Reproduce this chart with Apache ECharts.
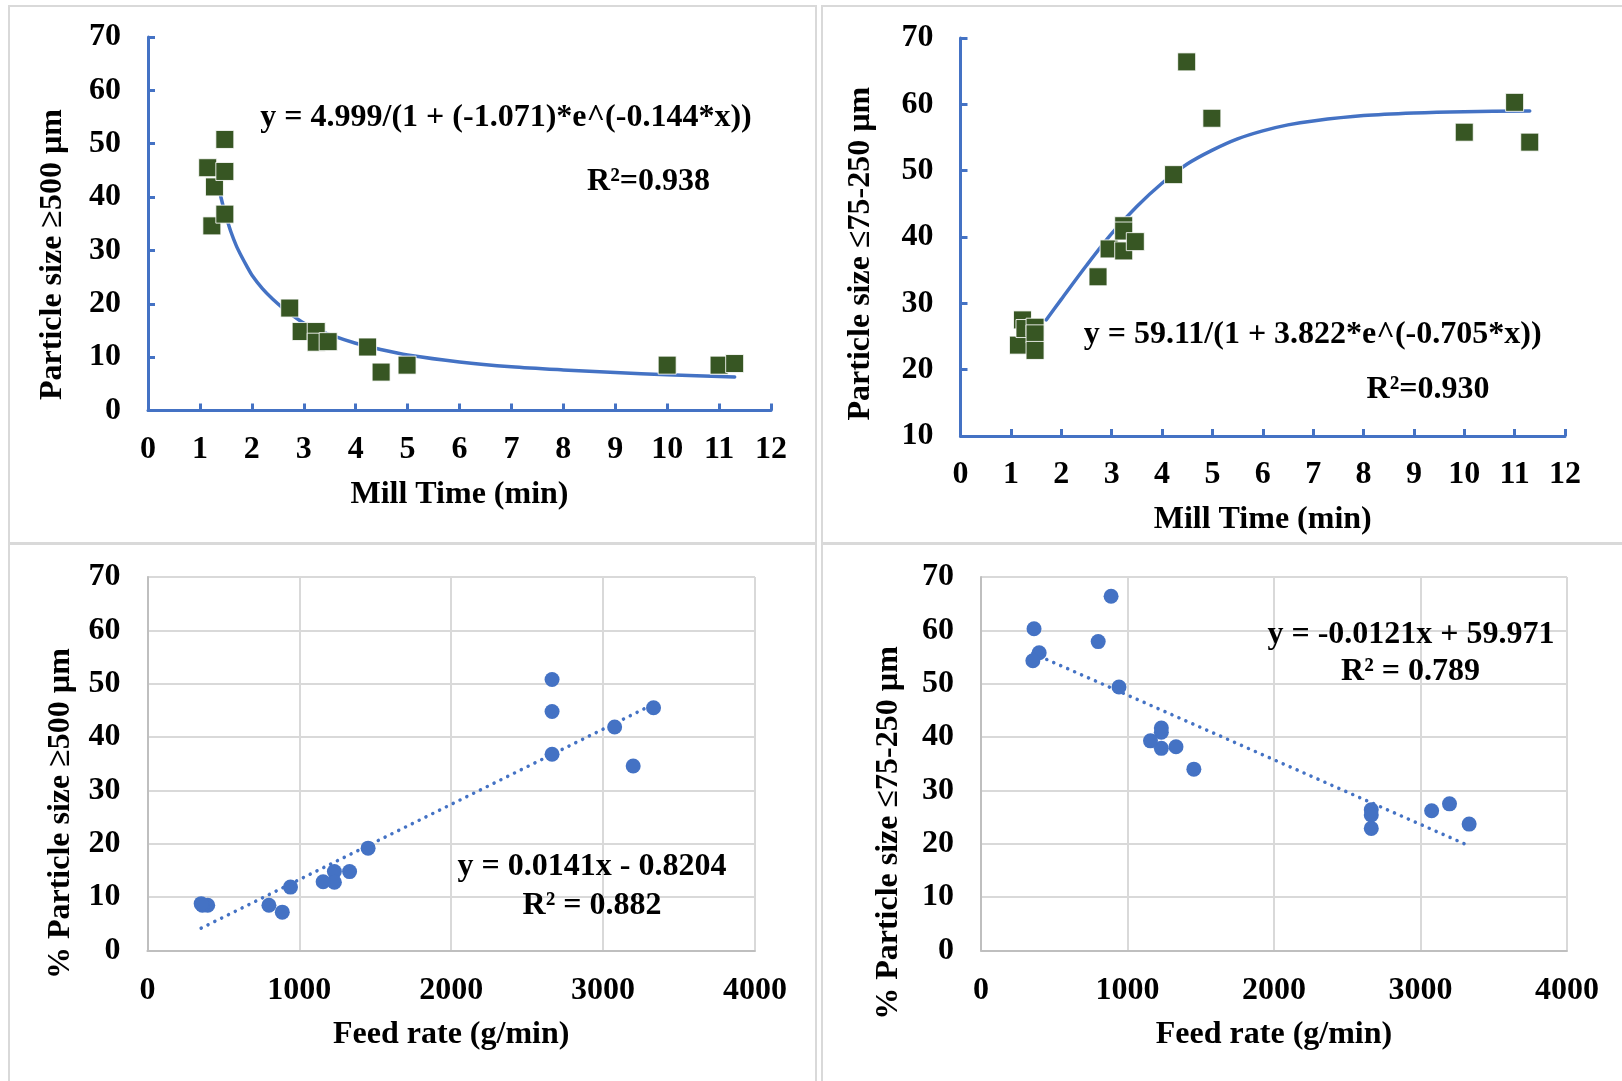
<!DOCTYPE html>
<html><head><meta charset="utf-8">
<script src="https://cdn.jsdelivr.net/npm/echarts@6/dist/echarts.min.js"></script>
<style>html,body{margin:0;padding:0;background:#fff}#c{width:1622px;height:1081px}</style>
</head><body><div id="c"></div>
<script>
// ---- data ----
// Particle size >=500 µm (panels 1 & 3)
const coarseTime = [1.15, 1.23, 1.28, 1.48, 1.48, 1.48, 2.73, 2.95, 3.24, 3.24, 3.47, 4.23, 4.49, 4.99, 10.0, 11.0, 11.3];
const coarseFeed = [3332, 3198, 3076, 2664, 2664, 2664, 1453, 1331, 1231, 1231, 1157, 942, 888, 800, 397, 362, 354];
const coarseValue = [45.5, 34.6, 41.9, 50.8, 44.8, 36.8, 19.2, 14.8, 14.8, 12.8, 12.9, 11.9, 7.2, 8.5, 8.5, 8.5, 8.8];
// Particle size <=75-250 µm (panels 2 & 4)
const fineTime = [1.15, 1.23, 1.28, 1.48, 1.48, 1.48, 2.73, 2.95, 3.24, 3.24, 3.24, 3.47, 4.23, 4.49, 4.99, 10.0, 11.0, 11.3];
const fineFeed = [3332, 3198, 3076, 2664, 2664, 2664, 1453, 1331, 1231, 1231, 1231, 1157, 942, 888, 800, 397, 362, 354];
const fineValue = [23.7, 27.5, 26.2, 26.4, 25.4, 22.9, 34.0, 38.2, 41.7, 40.9, 37.9, 39.3, 49.4, 66.4, 57.9, 55.8, 60.3, 54.3];
// fitted curves
const curve1X = [1.38, 1.45, 1.5, 1.6, 1.7, 1.8, 1.9, 2, 2.2, 2.4, 2.6, 2.8, 3, 3.25, 3.5, 4, 4.5, 5, 6, 7, 8, 9, 10, 11.3];
const curve1Y = [41.0, 38.2, 36.5, 33.4, 30.9, 28.9, 27.1, 25.4, 22.9, 20.9, 19.2, 17.7, 16.4, 15.3, 14.2, 12.6, 11.4, 10.4, 9.1, 8.2, 7.6, 7.1, 6.7, 6.3];
const curve2X = [1.7, 2, 2.5, 3, 3.5, 4, 4.5, 5, 5.5, 6, 6.5, 7, 8, 9, 10, 11.3];
const curve2Y = [27.5, 30.6, 35.7, 40.5, 44.6, 48.1, 51.0, 53.1, 54.8, 56.0, 56.9, 57.5, 58.3, 58.7, 58.9, 59.0];
// linear trendlines (endpoints)
const trend3X = [354, 3334];
const trend3Y = [4.2, 46.2];
const trend4X = [354, 3334];
const trend4Y = [55.7, 19.6];
// tick ranges
const timeTicks = {min: 0, max: 12, interval: 1};
const feedTicks = {min: 0, max: 4000, interval: 1000};
// texts
const eq1 = 'y = 4.999/(1 + (-1.071)*e^(-0.144*x))', r1 = 'R²=0.938';
const eq2 = 'y = 59.11/(1 + 3.822*e^(-0.705*x))', r2 = 'R²=0.930';
const eq3 = 'y = 0.0141x - 0.8204', r3 = 'R² = 0.882';
const eq4 = 'y = -0.0121x + 59.971', r4 = 'R² = 0.789';
const yTitles = ['Particle size ≥500 µm', 'Particle size ≤75-250 µm', '% Particle size ≥500 µm', '% Particle size ≤75-250 µm'];

const zip = (a, b) => a.map((v, i) => [v, b[i]]);
const FONT = "'Liberation Serif', 'Times New Roman', serif";
const BLUE = '#4472C4', GREEN = '#375623';
const txt = {fontFamily: FONT, fontWeight: 'bold', fontSize: 32, color: '#000'};

const grids = [
  {left: 148, top: 37, width: 623, height: 373.5},
  {left: 960.5, top: 38, width: 604.5, height: 398},
  {left: 147.4, top: 577, width: 607.6, height: 373.6},
  {left: 981, top: 577, width: 586, height: 373.6}
].map(g => Object.assign({containLabel: false, outerBoundsMode: 'none'}, g));

const plain = v => String(v);
function blueAxis(extra) {
  return Object.assign({
    type: 'value',
    axisLine: {show: true, onZero: false, lineStyle: {color: BLUE, width: 3}},
    axisTick: {show: true, inside: true, length: 7, lineStyle: {color: BLUE, width: 3}},
    splitLine: {show: false},
    axisLabel: Object.assign({}, txt, {margin: 23, formatter: plain})
  }, extra);
}
function grayAxis(extra) {
  return Object.assign({
    type: 'value',
    axisLine: {show: true, onZero: false, lineStyle: {color: '#bfbfbf', width: 2}},
    axisTick: {show: false},
    splitLine: {show: true, lineStyle: {color: '#d9d9d9', width: 2}},
    axisLabel: Object.assign({}, txt, {margin: 24, formatter: plain})
  }, extra);
}
const xName = (n) => ({name: n, nameLocation: 'middle', nameGap: 68, nameTextStyle: txt});

const xAxis = [
  blueAxis(Object.assign({gridIndex: 0}, timeTicks, xName('Mill Time (min)'))),
  blueAxis(Object.assign({gridIndex: 1}, timeTicks, xName('Mill Time (min)'))),
  grayAxis(Object.assign({gridIndex: 2}, feedTicks, xName('Feed rate (g/min)'))),
  grayAxis(Object.assign({gridIndex: 3}, feedTicks, xName('Feed rate (g/min)')))
];
const yLab = Object.assign({}, txt, {margin: 27, formatter: plain});
const yAxis = [
  blueAxis({gridIndex: 0, min: 0, max: 70, interval: 10, axisLabel: yLab}),
  blueAxis({gridIndex: 1, min: 10, max: 70, interval: 10, axisLabel: yLab}),
  grayAxis({gridIndex: 2, min: 0, max: 70, interval: 10, axisLabel: yLab}),
  grayAxis({gridIndex: 3, min: 0, max: 70, interval: 10, axisLabel: yLab})
];

const squareStyle = {color: GREEN, opacity: 1, borderColor: 'rgba(255,255,255,0.85)', borderWidth: 1};
const dotStyle = {color: BLUE, opacity: 1};
const curveLine = {color: BLUE, width: 3.5, cap: 'round', join: 'round'};
const dotLine = {color: BLUE, width: 3.5, type: [0.1, 7.5], cap: 'round'};
const series = [
  {type: 'line', xAxisIndex: 0, yAxisIndex: 0, data: zip(curve1X, curve1Y), smooth: 0.3, showSymbol: false, lineStyle: curveLine, z: 2, silent: true},
  {type: 'scatter', xAxisIndex: 0, yAxisIndex: 0, data: zip(coarseTime, coarseValue), symbol: 'rect', symbolSize: 18, itemStyle: squareStyle, z: 3},
  {type: 'line', xAxisIndex: 1, yAxisIndex: 1, data: zip(curve2X, curve2Y), smooth: 0.3, showSymbol: false, lineStyle: curveLine, z: 2, silent: true},
  {type: 'scatter', xAxisIndex: 1, yAxisIndex: 1, data: zip(fineTime, fineValue), symbol: 'rect', symbolSize: 18, itemStyle: squareStyle, z: 3},
  {type: 'line', xAxisIndex: 2, yAxisIndex: 2, data: zip(trend3X, trend3Y), showSymbol: false, lineStyle: dotLine, z: 2, silent: true},
  {type: 'scatter', xAxisIndex: 2, yAxisIndex: 2, data: zip(coarseFeed, coarseValue), symbol: 'circle', symbolSize: 15, itemStyle: dotStyle, z: 3},
  {type: 'line', xAxisIndex: 3, yAxisIndex: 3, data: zip(trend4X, trend4Y), showSymbol: false, lineStyle: dotLine, z: 2, silent: true},
  {type: 'scatter', xAxisIndex: 3, yAxisIndex: 3, data: zip(fineFeed, fineValue), symbol: 'circle', symbolSize: 15, itemStyle: dotStyle, z: 3}
];

const font = 'bold 32px ' + FONT;
const label = (text, x, y, rot) => ({type: 'text', x: x, y: y, rotation: rot || 0, z: 10,
  style: {text: text, font: font, fill: '#000', textAlign: 'center', textVerticalAlign: 'middle'}});
const frame = (x, y, w, h) => ({type: 'rect', shape: {x: x, y: y, width: w, height: h}, z: -1,
  style: {fill: 'none', stroke: '#d9d9d9', lineWidth: 2}});
const graphic = [
  frame(9, 6, 807, 537), frame(822, 6, 810, 537), frame(9, 544, 807, 545), frame(822, 544, 810, 545),
  label(yTitles[0], 53, 254.5, Math.PI / 2),
  label(yTitles[1], 861, 253.6, Math.PI / 2),
  label(yTitles[2], 61, 813.6, Math.PI / 2),
  label(yTitles[3], 888.6, 833, Math.PI / 2),
  label(eq1, 506, 118), label(r1, 648.5, 182),
  label(eq2, 1312.7, 335), label(r2, 1428, 390),
  label(eq3, 592, 867), label(r3, 592, 906),
  label(eq4, 1411, 635), label(r4, 1410.5, 671.5)
];

const chart = echarts.init(document.getElementById('c'), null, {renderer: 'canvas'});
chart.setOption({animation: false, backgroundColor: '#fff', grid: grids, xAxis: xAxis, yAxis: yAxis, series: series, graphic: graphic});
</script>
</body></html>
